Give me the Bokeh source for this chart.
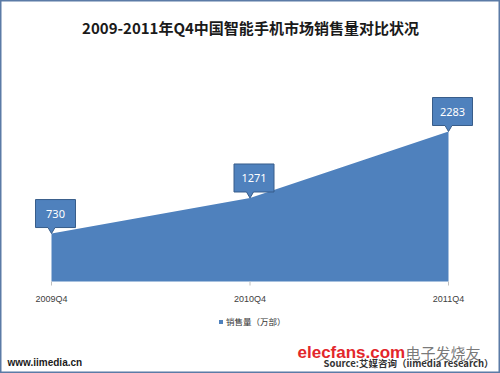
from bokeh.plotting import figure
from bokeh.models import ColumnDataSource, Range1d, Legend, LegendItem
from bokeh.core.properties import value
from bokeh.embed import file_html
from bokeh.resources import INLINE

# ---- data ----
categories = ["2009Q4", "2010Q4", "2011Q4"]
sales = [730, 1271, 2283]
series_name = "销售量（万部）"
title_text = "2009-2011年Q4中国智能手机市场销售量对比状况"
site_text = "www.iimedia.cn"
source_text = "Source:艾媒咨询（iimedia research）"

# ---- geometry helpers (pixel <-> data) ----
W, H = 500, 373
PX_X = 198.5          # pixels per category step
X0 = 51               # pixel x of first category
BASE = 281            # pixel y (from top) of zero line
KY = 15.22            # data units per pixel (vertical)

def dxp(px):
    return px / PX_X

def dyp(py):
    return py * KY

def to_data(cx, cy):
    return (cx - X0) / PX_X, (BASE - cy) * KY

p = figure(width=W, height=H, output_backend="svg", toolbar_location=None,
           x_range=Range1d(-X0 / PX_X, (W - X0) / PX_X),
           y_range=Range1d(-(H - BASE) * KY, BASE * KY),
           min_border=0, min_border_left=0, min_border_right=0,
           min_border_top=0, min_border_bottom=0)
p.axis.visible = False
p.grid.visible = False
p.background_fill_color = "white"
p.border_fill_color = "white"
p.outline_line_color = "#5B7BA6"
p.outline_line_width = 2

xs = list(range(len(categories)))
src = ColumnDataSource(dict(x=xs, y=sales, cat=categories, lab=[str(v) for v in sales]))

area = p.varea(x="x", y1=0, y2="y", source=src, fill_color="#4F81BD")

# tick marks
p.segment(x0="x", y0=0, x1="x", y1=-dyp(4), source=src, line_color="#BFBFBF", line_width=1)

# tick labels
tick_y = to_data(0, 298)[1]
p.text(x="x", y=tick_y, text="cat", source=src, text_align="center", text_baseline="middle",
       text_font=value("Liberation Sans"), text_font_size="9px", text_color="#404040")

# callouts
cx_off = dxp(4)
half = dxp(20)
ph = dxp(3.5)
pxs, pys, lx, ly = [], [], [], []
for i, v in zip(xs, sales):
    bottom = v + dyp(6)
    top = bottom + dyp(28)
    c = i + cx_off
    pxs.append([i - ph, i, i + ph, c + half, c + half, c - half, c - half])
    pys.append([bottom, v, bottom, bottom, top, top, bottom])
    lx.append(c)
    ly.append((bottom + top) / 2)
p.patches(xs=pxs, ys=pys, fill_color="#4F81BD", line_color="#385D8A", line_width=1)
p.text(x=lx, y=ly, text=[str(v) for v in sales], text_align="center", text_baseline="middle",
       text_font=value("Noto Sans"), text_font_size="11px", text_color="white")

# title
tx, ty = to_data(250, 27)
p.text(x=[tx], y=[ty], text=[title_text], text_align="center", text_baseline="middle",
       text_font=value("Noto Sans CJK SC"), text_font_style="bold", text_font_size="15px",
       text_color="#1a1a1a")

# watermark
wx, wy = to_data(297, 352)
p.text(x=[wx], y=[wy], text=["elecfans.com"], text_align="left", text_baseline="middle",
       text_font=value("Liberation Sans"), text_font_style="bold", text_font_size="17px",
       text_color="#E3262B")
wx2, wy2 = to_data(405, 352)
p.text(x=[wx2], y=[wy2], text=["电子发烧友"], text_align="left", text_baseline="middle",
       text_font=value("Noto Sans CJK SC"), text_font_size="15px", text_color="#555555",
       text_alpha=0.8)

# bottom texts
sx, sy = to_data(7, 362)
p.text(x=[sx], y=[sy], text=[site_text], text_align="left", text_baseline="middle",
       text_font=value("Liberation Sans"), text_font_style="bold", text_font_size="10px",
       text_color="#1a1a1a")
rx, ry = to_data(493, 362)
p.text(x=[rx], y=[ry], text=[source_text], text_align="right", text_baseline="middle",
       text_font=value("Noto Sans CJK SC"), text_font_style="bold", text_font_size="9.5px",
       text_color="#333333")

# legend
legend = Legend(items=[LegendItem(label=series_name, renderers=[area])],
                location=(218, 46), orientation="horizontal",
                glyph_width=5, glyph_height=5, label_height=10, label_standoff=3,
                label_text_font="Noto Sans CJK SC", label_text_font_size="8.5px",
                label_text_color="#333333", padding=0, margin=0, spacing=0,
                border_line_color=None, background_fill_alpha=0)
p.add_layout(legend, "center")

open("out.html", "w").write(file_html(p, INLINE))
